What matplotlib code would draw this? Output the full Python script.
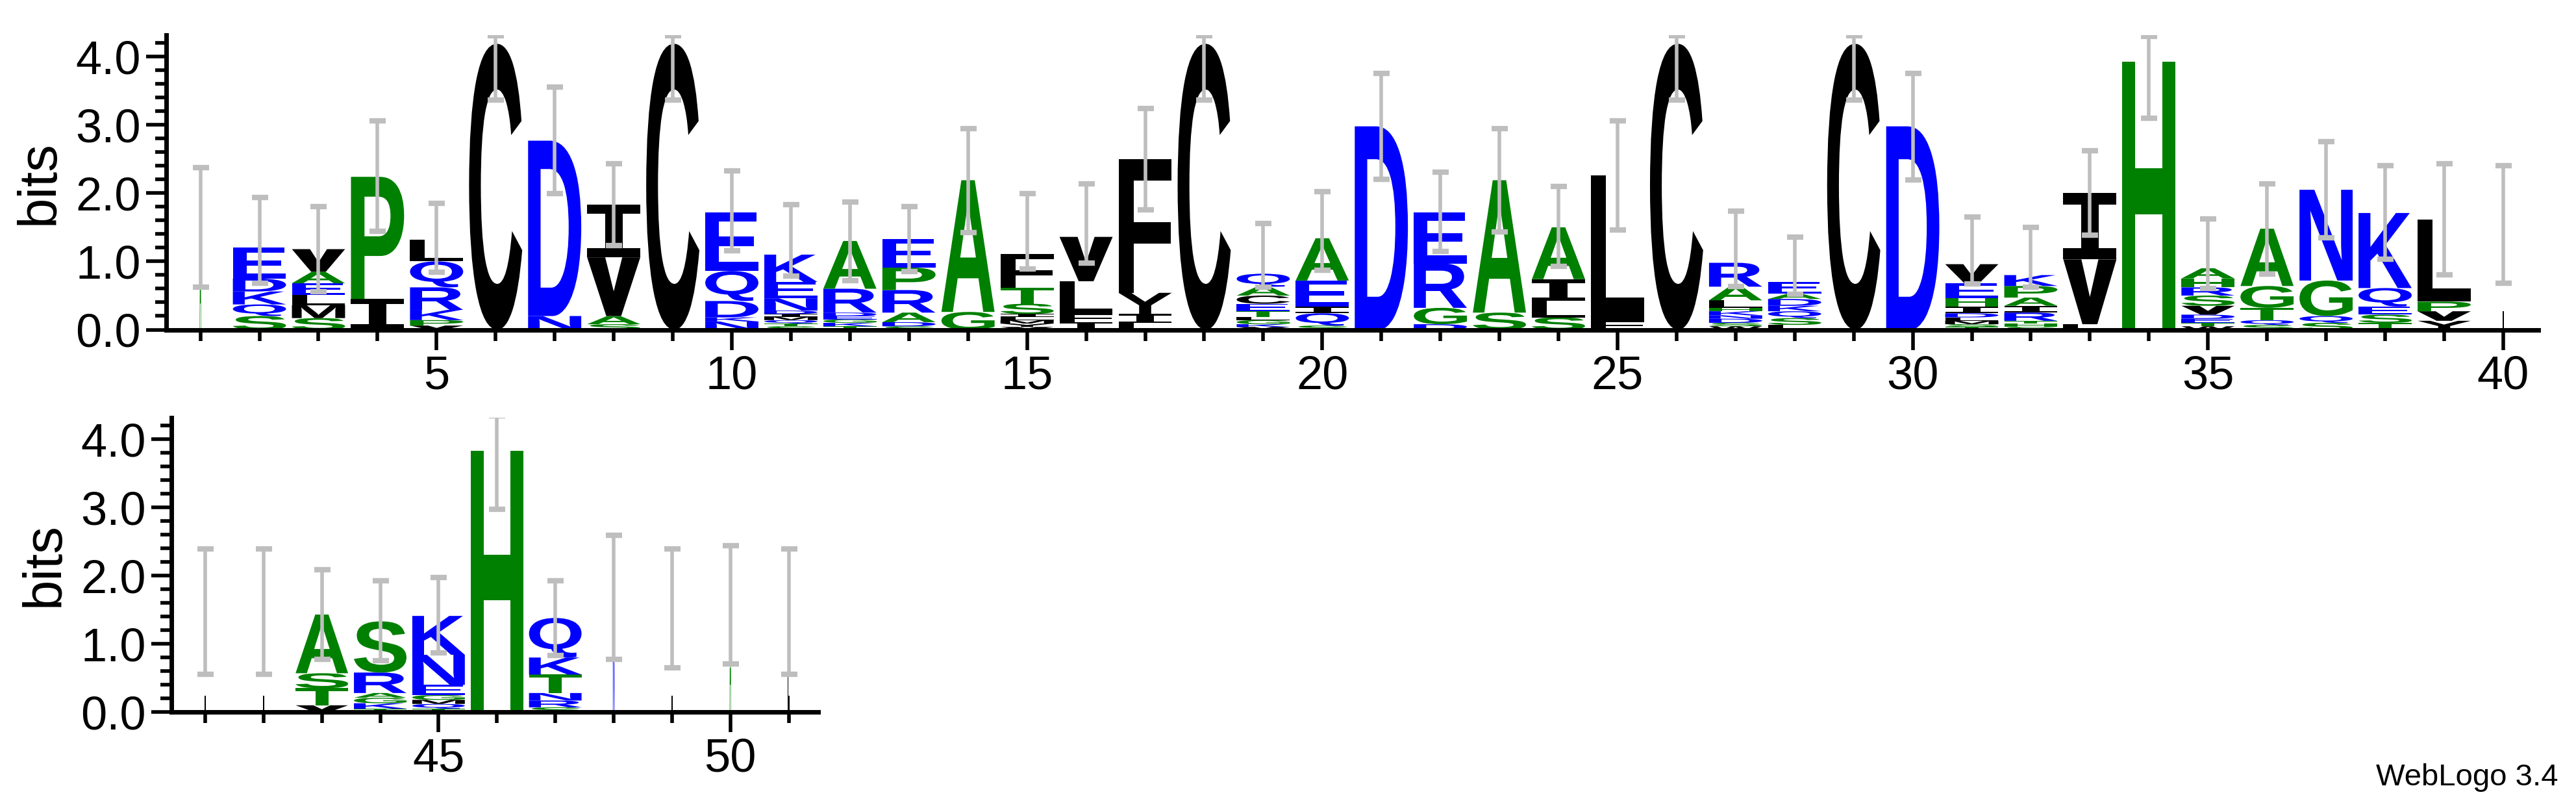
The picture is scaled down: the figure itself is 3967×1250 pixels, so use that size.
import matplotlib
matplotlib.use("Agg")
import matplotlib.pyplot as plt
from matplotlib.textpath import TextPath
from matplotlib.patches import PathPatch
from matplotlib.path import Path
from matplotlib.font_manager import FontProperties
from matplotlib.transforms import Affine2D

# ---- data: letter stacks per position, bottom to top (letter, bits) ----
positions = list(range(1, 52))
stacks = [
    [('A', 1.5)],
    [('S', .2), ('Q', .17), ('K', .19), ('D', .19), ('E', .45)],
    [('S', .17), ('M', .19), ('L', .15), ('E', .17), ('A', .17), ('V', .33)],
    [('I', .45), ('P', 1.79)],
    [('V', .06), ('P', .08), ('K', .15), ('R', .33), ('Q', .38), ('L', .32)],
    [('C', 4.19)],
    [('N', .2), ('D', 2.57)],
    [('S', .08), ('A', .12), ('V', .86), ('I', .77)],
    [('C', 4.19)],
    [('N', .12), ('K', .06), ('D', .24), ('Q', .44), ('E', .86)],
    [('S', .05), ('T', .04), ('Q', .05), ('M', .05), ('I', .04), ('D', .05),
     ('N', .18), ('E', .24), ('K', .40)],
    [('T', .05), ('K', .05), ('G', .05), ('E', .05), ('D', .05), ('R', .35), ('A', .70)],
    [('S', .05), ('D', .06), ('A', .14), ('R', .33), ('P', .33), ('E', .42)],
    [('G', .26), ('A', 1.93)],
    [('V', .04), ('Y', .05), ('M', .05), ('L', .05), ('I', .04), ('S', .15), ('T', .23), ('F', .50)],
    [('I', .11), ('F', .12), ('L', .48), ('V', .65)],
    [('L', .10), ('I', .13), ('Y', .31), ('F', 1.96)],
    [('C', 4.19)],
    [('V', .04), ('K', .04), ('G', .06), ('L', .05), ('T', .08), ('E', .11),
     ('C', .12), ('A', .13), ('Q', .19)],
    [('S', .06), ('Q', .18), ('I', .10), ('E', .38), ('A', .62)],
    [('D', 2.98)],
    [('D', .08), ('G', .24), ('R', .65), ('E', .75)],
    [('S', .25), ('A', 1.94)],
    [('S', .18), ('L', .24), ('I', .32), ('A', .76)],
    [('F', .13), ('L', 2.13)],
    [('C', 4.19)],
    [('W', .05), ('S', .05), ('D', .06), ('N', .05), ('K', .06), ('H', .05),
     ('L', .11), ('A', .20), ('R', .35)],
    [('L', .07), ('S', .10), ('Q', .10), ('K', .08), ('D', .10), ('A', .08), ('E', .17)],
    [('C', 4.19)],
    [('D', 2.98)],
    [('T', .04), ('S', .04), ('M', .05), ('L', .05), ('D', .06), ('I', .10),
     ('H', .12), ('E', .22), ('V', .28)],
    [('S', .04), ('H', .05), ('T', .04), ('R', .12), ('I', .10), ('A', .12),
     ('P', .17), ('K', .16)],
    [('L', .08), ('V', .95), ('I', .97)],
    [('H', 3.93)],
    [('W', .05), ('T', .05), ('E', .06), ('D', .06), ('V', .13), ('S', .15),
     ('R', .12), ('H', .13), ('A', .15)],
    [('S', .07), ('Q', .07), ('T', .18), ('G', .32), ('A', .84)],
    [('S', .10), ('Q', .10), ('G', .52), ('N', 1.33)],
    [('T', .10), ('S', .12), ('E', .12), ('Q', .27), ('K', 1.10)],
    [('Y', .13), ('V', .14), ('P', .14), ('L', 1.20)],
    [('I', 1.54)],
    [('L', 1.47)],
    [('L', 1.47)],
    [('V', .10), ('T', .25), ('S', .22), ('A', .86)],
    [('T', .05), ('K', .08), ('G', .08), ('A', .07), ('R', .30), ('S', .75)],
    [('T', .05), ('Q', .07), ('M', .06), ('G', .07), ('E', .15), ('N', .44), ('K', .57)],
    [('H', 3.83)],
    [('S', .07), ('R', .10), ('N', .11), ('T', .27), ('K', .25), ('Q', .58)],
    [('N', 1.67)],
    [('L', 1.47)],
    [('A', 1.57)],
    [('L', 1.47)],
]
col_width = [0.03] + [1.0] * 38 + [0.03, 0.03, 0.03] + [1.0] * 5 + [0.03] * 4
err_lo = [.62, .68, .56, 1.44, .84, 3.37, 1.99, 1.23, 3.37, 1.16,
          .79, .72, .85, 1.42, .89, .98, 1.76, 3.37, .62, .87,
          2.2, 1.15, 1.43, .93, 1.46, 3.37, .63, .52, 3.37, 2.19,
          .67, .62, 1.39, 3.1, .6, .81, 1.35, 1.03, .8, .68,
          .55, .55, .77, .75, .87, 2.97, .83, .77, .65, .71, .55]
err_hi = [2.38, 1.94, 1.8, 3.06, 1.85, 4.31, 3.56, 2.43, 4.31, 2.33,
          1.83, 1.87, 1.8, 2.95, 1.99, 2.14, 3.24, 4.31, 1.56, 2.02,
          3.76, 2.31, 2.95, 2.1, 3.06, 4.31, 1.74, 1.36, 4.31, 3.76,
          1.65, 1.5, 2.62, 4.3, 1.62, 2.14, 2.76, 2.4, 2.43, 2.4,
          2.39, 2.39, 2.09, 1.93, 1.97, 4.34, 1.93, 2.59, 2.39, 2.44, 2.39]

colors = {}
for c in 'CVILFYMW':
    colors[c] = 'black'
for c in 'AGPSTH':
    colors[c] = '#008000'
for c in 'DEKRNQ':
    colors[c] = '#0000ff'

glyph_font = FontProperties(family='Liberation Sans', weight='bold')
serif_i_font = FontProperties(family='DejaVu Sans Mono', weight='bold')  # I with bars, like WebLogo
plt.rcParams['font.family'] = ['Liberation Sans', 'DejaVu Sans']

# heavier V shape (font V looks like an open triangle once squashed)
V_GLYPH = Path([(0, 1), (0.34, 1), (0.5, 0.42), (0.66, 1), (1, 1), (0.64, 0), (0.36, 0), (0, 1)], closed=True)


def draw_letter(ax, ch, x, y, w, h, color):
    if ch == 'V':
        tp = V_GLYPH
    else:
        tp = TextPath((0, 0), ch, size=1, prop=serif_i_font if ch == 'I' else glyph_font)
    bb = tp.get_extents()
    tr = Affine2D().translate(-bb.x0, -bb.y0).scale(w / bb.width, h / bb.height).translate(x - w / 2, y)
    ax.add_patch(PathPatch(tr.transform_path(tp), fc=color, ec='none', lw=0, zorder=2))


def draw_row(ax, first, last):
    for i in range(first - 1, last):
        x = positions[i]
        w = 0.9 * col_width[i]
        y = 0.0
        for ch, h in stacks[i]:
            draw_letter(ax, ch, x, y, w, h, colors[ch])
            y += h
        ax.errorbar([x], [(err_lo[i] + err_hi[i]) / 2], yerr=[(err_hi[i] - err_lo[i]) / 2],
                    fmt='none', ecolor='#bebebe', elinewidth=4, capsize=9, capthick=6, zorder=3)


def style_axes(ax, lo, hi):
    ax.set_ylim(0, 4.32)
    ax.set_xlim(lo, hi)
    for s in ['top', 'right']:
        ax.spines[s].set_visible(False)
    ax.spines['left'].set_linewidth(5)
    ax.spines['bottom'].set_linewidth(5)
    ax.set_yticks([0, 1, 2, 3, 4])
    ax.set_yticklabels(['0.0', '1.0', '2.0', '3.0', '4.0'])
    ax.set_yticks([k * 0.2 for k in range(22)], minor=True)
    xt = [p for p in range(int(lo) + 1, int(hi) + 1)]
    ax.set_xticks([p for p in xt if p % 5 == 0])
    ax.set_xticks(xt, minor=True)
    ax.tick_params(axis='both', which='major', labelsize=52, width=4, length=22, direction='out', pad=6)
    ax.tick_params(axis='both', which='minor', width=4, length=12, direction='out')
    ax.set_ylabel('bits', fontsize=60, labelpad=12)


fig = plt.figure(figsize=(39.67, 12.5), dpi=100)
ax1 = fig.add_axes([0.0645, 0.594, 0.921, 0.363])
ax2 = fig.add_axes([0.0665, 0.123, 0.251, 0.363])
draw_row(ax1, 1, 40)
draw_row(ax2, 41, 51)
style_axes(ax1, 0.42, 40.6)
style_axes(ax2, 40.42, 51.5)
fig.text(0.993, 0.025, 'WebLogo 3.4', ha='right', va='bottom', fontsize=34)
fig.savefig('out.png', dpi=100)
